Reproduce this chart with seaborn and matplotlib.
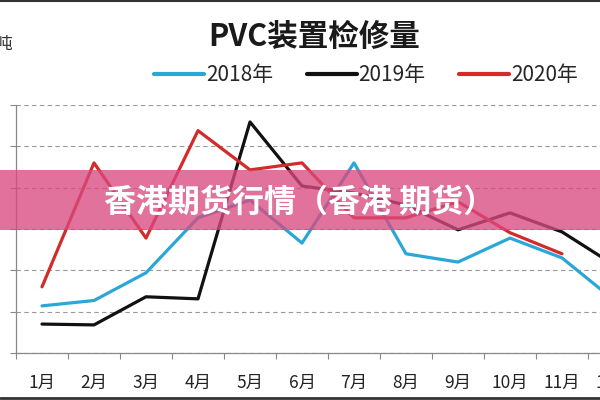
import numpy as np
import pandas as pd
import matplotlib
matplotlib.use("Agg")
import matplotlib.pyplot as plt
from matplotlib.ticker import FixedLocator, FixedFormatter, NullFormatter
from matplotlib.lines import Line2D
import seaborn as sns

months = ["1月", "2月", "3月", "4月", "5月", "6月", "7月", "8月", "9月", "10月", "11月", "12月"]
v2018 = [11.4, 12.7, 19.4, 32.7, 37.0, 26.6, 46.0, 24.0, 22.0, 27.8, 23.0, 12.8]
v2019 = [7.0, 6.8, 13.6, 13.1, 55.9, 40.4, 38.7, 35.8, 29.8, 33.9, 29.3, 21.3]
v2020 = [16.0, 46.0, 27.8, 53.8, 44.3, 46.0, 32.7, 32.7, 36.6, 29.1, 24.0]
years = ["2018年", "2019年", "2020年"]
colors = ["#2aa7d6", "#111111", "#d42a2a"]

rows = []
for y, vals in zip(years, [v2018, v2019, v2020]):
    for i, v in enumerate(vals):
        rows.append({"idx": i, "month": months[i], "year": y, "value": v})
df = pd.DataFrame(rows)

sns.set_style("white")
plt.rcParams["font.family"] = ["Noto Sans CJK SC", "DejaVu Sans"]

fig = plt.figure(figsize=(6, 4), dpi=100)
ax = fig.add_axes([16 / 600, 47 / 400, 624 / 600, 248 / 400])

sns.lineplot(data=df, x="idx", y="value", hue="year", palette=colors,
             hue_order=years, linewidth=2.3, legend=False, ax=ax, zorder=3)

ax.set_xlim(-0.5, 11.5)
ax.set_ylim(0, 60)
ax.set_xlabel("")
ax.set_ylabel("")
ax.set_yticks(np.arange(0, 61, 10))
ax.set_yticklabels([])
ax.yaxis.grid(True, linestyle=(0, (4, 3)), color="#999999", linewidth=0.8)
ax.xaxis.grid(False)
ax.xaxis.set_major_locator(FixedLocator(np.arange(-0.5, 12, 1)))
ax.xaxis.set_major_formatter(NullFormatter())
ax.xaxis.set_minor_locator(FixedLocator(np.arange(12)))
ax.xaxis.set_minor_formatter(FixedFormatter(months))
ax.tick_params(axis="x", which="major", length=4, width=0.8, color="#888888", direction="out", bottom=True)
ax.tick_params(axis="x", which="minor", length=0, pad=15, labelsize=12.5, labelcolor="#222222")
ax.tick_params(axis="y", length=4, width=0.8, color="#888888", left=True)
for s in ["top", "right"]:
    ax.spines[s].set_visible(False)
for s in ["left", "bottom"]:
    ax.spines[s].set_color("#888888")
    ax.spines[s].set_linewidth(0.9)

fig.text(314 / 600, 1 - 37 / 400, "PVC装置检修量", ha="center", va="center",
         fontsize=22, fontweight="bold", color="#1a1a1a")
fig.text(-4 / 600, 1 - 44 / 400, "吨", ha="left", va="center", fontsize=12, color="#333333")

handles = [Line2D([0], [0], color=c, lw=3) for c in colors]
fig.legend(handles, years, loc="center", bbox_to_anchor=(366 / 600, 1 - 75 / 400), ncol=3,
           frameon=False, fontsize=15, handlelength=2.4, handletextpad=0.1, columnspacing=1.6)

# overlay band
fig.patches.append(plt.Rectangle((0, 1 - 230 / 400), 1, 60 / 400, transform=fig.transFigure,
                                 facecolor="#d94a80", alpha=0.78, edgecolor="none", zorder=5))
fig.text(300 / 600, 1 - 203 / 400, "香港期货行情（香港 期货）", ha="center", va="center",
         fontsize=23, fontweight="bold", color="white", zorder=6)

fig.add_artist(Line2D([0, 1], [1 - 1 / 400, 1 - 1 / 400], transform=fig.transFigure, color="#333333", lw=1.5))
fig.add_artist(Line2D([0, 1], [2.5 / 400, 2.5 / 400], transform=fig.transFigure, color="#333333", lw=2))

fig.savefig("out.png", dpi=100)
